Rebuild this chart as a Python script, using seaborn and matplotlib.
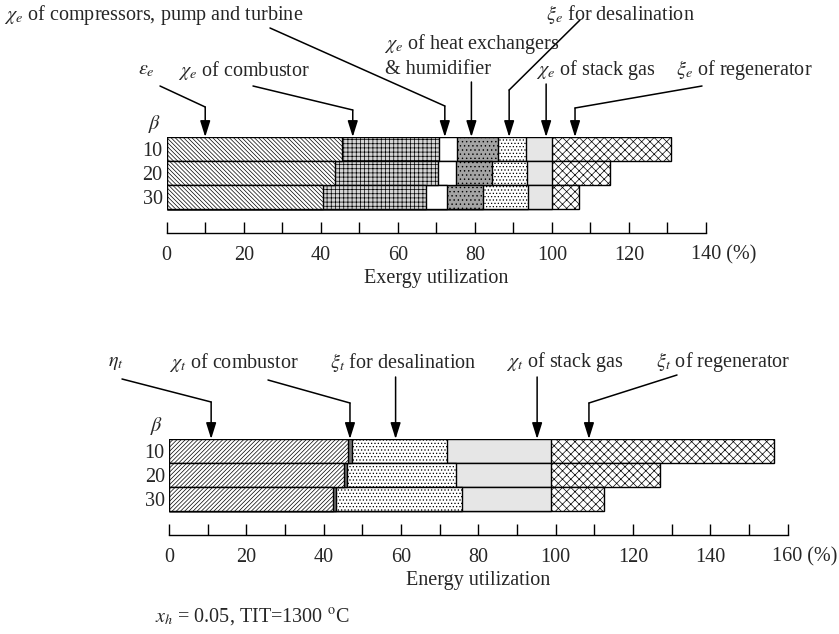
import seaborn as sns
import matplotlib.pyplot as plt
import pandas as pd

sns.set_theme(style='white')
plt.rcParams['font.family'] = ['Liberation Serif', 'DejaVu Serif']
plt.rcParams['mathtext.fontset'] = 'stix'
plt.rcParams['hatch.linewidth'] = 0.5

W, H = 839, 634

beta = ['10', '20', '30']

# exergy utilization (%), segments from left to right
ex_eps = [45.4, 43.7, 40.7]
ex_comb = [25.4, 26.7, 26.6]
ex_comp = [4.5, 4.7, 5.5]
ex_hx = [10.8, 9.3, 9.4]
ex_desal = [7.1, 9.1, 11.5]
ex_stack = [6.8, 6.5, 6.3]
ex_regen = [30.8, 15.1, 7.0]

# energy utilization (%)
en_eta = [46.4, 45.3, 42.5]
en_comb = [0.9, 0.7, 0.6]
en_desal = [24.5, 28.3, 32.6]
en_stack = [26.9, 24.4, 23.0]
en_regen = [57.8, 28.3, 13.8]

ex_styles = [('white', '\\' * 8), ('#d4d4d4', '++++'), ('white', None),
             ('#a4a4a4', '....'), ('white', '.....'), ('#e6e6e6', None), ('white', 'xxxx')]
en_styles = [('white', '/' * 8), ('#707070', None), ('white', '.....'),
             ('#e6e6e6', None), ('white', 'xxxx')]

FS = 14.5
TS = 14.5


def stacked(ax, segments, styles):
    cum = pd.DataFrame(segments).T.cumsum(axis=1)
    for j in reversed(range(len(segments))):
        face, hatch = styles[j]
        sns.barplot(x=cum[j].values, y=beta, order=beta, orient='h', color=face,
                    saturation=1, width=1.0, edgecolor='black', linewidth=1,
                    hatch=hatch, errorbar=None, ax=ax)


def style_axis(ax, xmax, xlabel):
    ax.set_xlim(0, xmax)
    ax.set_ylim(3.5, -0.5)
    for s in ['left', 'top', 'right']:
        ax.spines[s].set_visible(False)
    ax.spines['bottom'].set_color('black')
    ax.spines['bottom'].set_linewidth(1)
    ax.set_xticks(range(0, xmax + 1, 20))
    ax.set_xticks(range(10, xmax, 20), minor=True)
    ax.set_xticklabels([str(v) for v in range(0, xmax, 20)] + [''])
    ax.tick_params(axis='x', which='both', direction='in', length=8, width=1,
                   color='black', pad=9, labelsize=TS, bottom=True)
    ax.set_yticks([0, 1, 2])
    ax.set_yticklabels(beta)
    ax.tick_params(axis='y', length=0, pad=3, labelsize=TS)
    ax.set_ylabel('')
    ax.set_xlabel(xlabel, fontsize=FS, labelpad=3)
    ax.annotate(f'{xmax} (%)', xy=(xmax, 0), xycoords=('data', 'axes fraction'),
                xytext=(-11, -9), textcoords='offset points',
                ha='left', va='top', fontsize=TS)


def leader(ax, tip_x, elbow_y, start=None):
    # optional slanted part, then a vertical arrow down to the top bar
    if start is not None:
        ax.annotate('', xy=(tip_x, H - elbow_y), xycoords=('data', 'figure pixels'),
                    xytext=(start[0], H - start[1]), textcoords='figure pixels',
                    arrowprops=dict(arrowstyle='-', lw=1.1, color='black',
                                    shrinkA=0, shrinkB=0))
    ax.annotate('', xy=(tip_x, -0.5), xycoords='data',
                xytext=(tip_x, H - elbow_y), textcoords=('data', 'figure pixels'),
                arrowprops=dict(arrowstyle='-|>,head_length=0.7,head_width=0.22',
                                lw=1.1, color='black', shrinkA=0, shrinkB=0,
                                mutation_scale=14))


fig = plt.figure(figsize=(W / 100, H / 100), dpi=100)
ax1 = fig.add_axes([166.7 / W, (H - 233) / H, 539.3 / W, 96 / H])
ax2 = fig.add_axes([169 / W, (H - 535) / H, 618.7 / W, 96 / H])

stacked(ax1, [ex_eps, ex_comb, ex_comp, ex_hx, ex_desal, ex_stack, ex_regen], ex_styles)
stacked(ax2, [en_eta, en_comb, en_desal, en_stack, en_regen], en_styles)
style_axis(ax1, 140, 'Exergy utilization')
style_axis(ax2, 160, 'Energy utilization')


def ftext(x, y, s, **kw):
    fig.text(x / W, 1 - y / H, s, fontsize=FS, va='center', **kw)


# top panel labels
ftext(4, 15, r'$\chi_e$ of compressors, pump and turbine')
ftext(546, 15, r'$\xi_e$ for desalination')
ftext(384, 44, r'$\chi_e$ of heat exchangers')
ftext(385, 70, r'& humidifier')
ftext(138, 70, r'$\varepsilon_e$')
ftext(178, 70, r'$\chi_e$ of combustor')
ftext(536, 70, r'$\chi_e$ of stack gas')
ftext(676, 70, r'$\xi_e$ of regenerator')
ftext(148, 124, r'$\beta$')

leader(ax1, 10, 107, (160, 86))
leader(ax1, 48.3, 110, (253, 86))
leader(ax1, 72.2, 106, (270, 28))
leader(ax1, 79.1, 82)
leader(ax1, 88.9, 90, (580, 20))
leader(ax1, 98.5, 84)
leader(ax1, 106, 108, (702, 86))

# bottom panel labels
ftext(108, 362, r'$\eta_t$')
ftext(169, 362, r'$\chi_t$ of combustor')
ftext(330, 362, r'$\xi_t$ for desalination')
ftext(506, 362, r'$\chi_t$ of stack gas')
ftext(656, 362, r'$\xi_t$ of regenerator')
ftext(150, 426, r'$\beta$')

leader(ax2, 10.9, 402, (122, 379))
leader(ax2, 46.8, 403, (268, 380))
leader(ax2, 58.6, 377)
leader(ax2, 95.2, 377)
leader(ax2, 108.6, 403, (677, 375))

ftext(155, 617, r'$x_h$ = 0.05, TIT=1300 $^{\rm o}$C')

fig.savefig('out.png', dpi=100)
